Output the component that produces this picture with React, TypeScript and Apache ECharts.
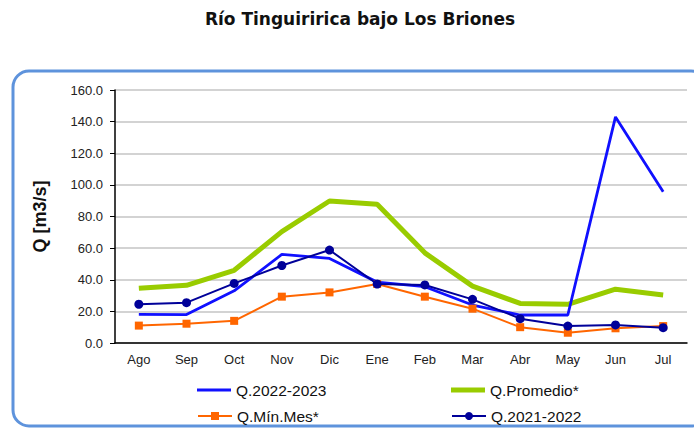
import React, { useEffect, useRef } from "react";
import * as echarts from "echarts";

const months = ["Ago", "Sep", "Oct", "Nov", "Dic", "Ene", "Feb", "Mar", "Abr", "May", "Jun", "Jul"];
const q2223 = [18.1, 18.0, 33.0, 56.0, 53.5, 38.5, 35.6, 24.0, 17.7, 17.7, 143.0, 95.7];
const qProm = [34.6, 36.5, 46.0, 70.4, 89.8, 87.7, 57.0, 36.0, 25.0, 24.5, 34.0, 30.4];
const qMin = [11.0, 12.2, 14.0, 29.3, 32.0, 37.3, 29.3, 21.7, 10.0, 6.5, 9.3, 10.7];
const q2122 = [24.5, 25.5, 37.7, 49.0, 58.8, 37.3, 36.7, 27.6, 15.4, 10.7, 11.4, 9.7];

export default function App() {
  const ref = useRef<HTMLDivElement>(null);
  useEffect(() => {
    if (!ref.current) return;
    const chart = echarts.init(ref.current, undefined, { renderer: "svg" });
    const font = "'Liberation Sans', Arial, sans-serif";
    const legText = { fontFamily: font, fontSize: 15.5, color: "#111" };
    const mkLegend = (id: string, name: string, left: number, top: number, extra: any) => ({
      id,
      show: true,
      data: [name],
      orient: "horizontal",
      left,
      top,
      padding: 0,
      itemWidth: 34,
      itemHeight: 10,
      itemGap: 0,
      textStyle: legText,
      ...extra,
    });
    chart.setOption({
      animation: false,
      title: {
        text: "Río Tinguiririca bajo Los Briones",
        left: 355,
        textAlign: "center",
        top: 5,
        textStyle: { fontFamily: "'DejaVu Sans', Verdana, sans-serif", fontWeight: "bold", fontSize: 17, color: "#111" },
      },
      graphic: [
        {
          type: "rect",
          shape: { x: 13, y: 71, width: 694, height: 355, r: 16 },
          style: { fill: "none", stroke: "#5e93dc", lineWidth: 3 },
          silent: true,
        },
      ],
      grid: { left: 115, right: 7, top: 90, bottom: 85 },
      legend: [
        mkLegend("l1", "Q.2022-2023", 197, 382, { icon: "rect", itemHeight: 3 }),
        mkLegend("l2", "Q.Mín.Mes*", 197, 408, {}),
        mkLegend("l3", "Q.Promedio*", 451, 382, { icon: "rect", itemHeight: 5 }),
        mkLegend("l4", "Q.2021-2022", 451, 408, {}),
      ],
      xAxis: {
        type: "category",
        data: months,
        boundaryGap: true,
        axisLine: { lineStyle: { color: "#000", width: 1.5 } },
        axisTick: { inside: true, length: 4, lineStyle: { color: "#000" } },
        axisLabel: { fontFamily: font, fontSize: 13, color: "#222", margin: 10 },
      },
      yAxis: {
        type: "value",
        min: 0,
        max: 160,
        interval: 20,
        name: "Q [m3/s]",
        nameLocation: "middle",
        nameGap: 66,
        nameTextStyle: { fontFamily: font, fontSize: 18, fontWeight: "bold", color: "#111" },
        axisLine: { show: true, lineStyle: { color: "#000", width: 1.5 } },
        axisTick: { show: true, length: 5, lineStyle: { color: "#000" } },
        axisLabel: { fontFamily: font, fontSize: 13, color: "#222", margin: 12, formatter: (v: number) => v.toFixed(1) },
        splitLine: { lineStyle: { color: "#c4c4c4", width: 1.5 } },
      },
      series: [
        {
          name: "Q.Promedio*",
          type: "line",
          data: qProm,
          symbol: "none",
          lineStyle: { color: "#99cc00", width: 5 },
          itemStyle: { color: "#99cc00" },
          z: 2,
        },
        {
          name: "Q.2022-2023",
          type: "line",
          data: q2223,
          symbol: "none",
          lineStyle: { color: "#1010ff", width: 2.8 },
          itemStyle: { color: "#1010ff" },
          z: 3,
        },
        {
          name: "Q.Mín.Mes*",
          type: "line",
          data: qMin,
          symbol: "rect",
          symbolSize: 8,
          lineStyle: { color: "#ff6600", width: 2 },
          itemStyle: { color: "#ff6600" },
          z: 4,
        },
        {
          name: "Q.2021-2022",
          type: "line",
          data: q2122,
          symbol: "circle",
          symbolSize: 9,
          lineStyle: { color: "#000099", width: 2 },
          itemStyle: { color: "#000099" },
          z: 5,
        },
      ],
    });
    return () => chart.dispose();
  }, []);
  return <div ref={ref} style={{ width: 694, height: 428, position: "absolute", left: 0, top: 0 }} />;
}
